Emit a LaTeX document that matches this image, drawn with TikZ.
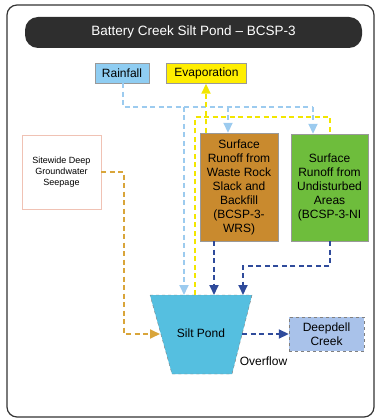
\documentclass[tikz,border=0pt]{standalone}
\usepackage{fontspec}
\setmainfont{Liberation Sans}
\usetikzlibrary{arrows.meta}
\definecolor{titlebg}{HTML}{2E2E2E}
\definecolor{rainfill}{HTML}{8FCDF2}
\definecolor{evapfill}{HTML}{FFEE00}
\definecolor{wrsfill}{HTML}{C98A2E}
\definecolor{nifill}{HTML}{6EBD3C}
\definecolor{pondfill}{HTML}{55BFE0}
\definecolor{creekfill}{HTML}{A9C2EA}
\definecolor{siteborder}{HTML}{F0C2B4}
\definecolor{rainline}{HTML}{9CCBEF}
\definecolor{darkline}{HTML}{2F4B9B}
\definecolor{orangeline}{HTML}{D9A53A}
\definecolor{yelline}{HTML}{F2E600}
\tikzset{
  flow/.style={line width=1.8pt, dash pattern=on 5pt off 3.5pt},
  tip/.style={-{Triangle[width=9pt,length=10pt]}},
  box/.style={draw=black!40, line width=0.4pt, align=center, inner sep=1pt, font=\fontsize{12}{14}\selectfont},
}
\begin{document}
\begin{tikzpicture}[x=1pt,y=-1pt]
\useasboundingbox (0,0) rectangle (377,419);
\draw[rounded corners=10pt, line width=1.2pt, black!80] (7,5) rectangle (374,417);
\node[fill=titlebg, rounded corners=13pt, minimum width=337pt, minimum height=31pt, text=white, font=\fontsize{13.5}{15}\selectfont] (title) at (193.5,32.5) {Battery Creek Silt Pond -- BCSP-3};

\node[box, fill=rainfill, minimum width=54pt, minimum height=20pt] (rain) at (122,73) {Rainfall};
\node[box, fill=evapfill, minimum width=80pt, minimum height=20pt] (evap) at (206.5,73.5) {Evaporation};
\node[box, fill=wrsfill, minimum width=78pt, minimum height=108pt] (wrs) at (239,187) {Surface\\Runoff from\\Waste Rock\\Slack and\\Backfill\\(BCSP-3-\\WRS)};
\node[box, fill=nifill, minimum width=77pt, minimum height=107pt] (ni) at (329.5,187.5) {Surface\\Runoff from\\Undisturbed\\Areas\\(BCSP-3-NI};
\node[box, draw=siteborder, fill=white, minimum width=79pt, minimum height=74pt, font=\fontsize{9}{11}\selectfont] (site) at (61.5,172) {Sitewide Deep\\Groundwater\\Seepage};
\node[box, draw=gray, dashed, fill=creekfill, minimum width=75pt, minimum height=34pt] (creek) at (326.5,334) {Deepdell\\Creek};

% pond
\draw[fill=pondfill, draw=gray, line width=0.4pt, dashed] (150,295) -- (252,295) -- (232,374) -- (172,374) -- cycle;
\node[font=\fontsize{12}{14}\selectfont] (pond) at (201,333) {Silt Pond};
\node[font=\fontsize{12}{14}\selectfont] (ovf) at (263.5,361) {Overflow};

% coordinates
\coordinate (r1) at (123,107);
\coordinate (r2) at (313,107);
\coordinate (r3) at (228,107);
\coordinate (r4) at (184,107);
\coordinate (p1) at (184,295);
\coordinate (y0) at (195,295);
\coordinate (y1) at (195,117);
\coordinate (y2) at (330,117);
\coordinate (y3) at (206,117);
\coordinate (d1) at (214,295);
\coordinate (d2) at (330,266);
\coordinate (d3) at (243,266);
\coordinate (d4) at (243,295);
\coordinate (o1) at (124,172);
\coordinate (o2) at (124,334);
\coordinate (o3) at (160,334);
\coordinate (ov) at (242,334);

% rainfall
\draw[flow, rainline] (rain.south -| r1) -- (r1) -- (r2);
\draw[flow, rainline, tip] (r3) -- (wrs.north -| r3);
\draw[flow, rainline, tip] (r2) -- (ni.north -| r2);
\draw[flow, rainline, tip] (r4) -- (p1);

% evaporation
\draw[flow, yelline] (y0) -- (y1) -- (y2) -- (ni.north -| y2);
\draw[flow, yelline, tip] (wrs.north -| y3) -- (evap.south -| y3);

% runoff
\draw[flow, darkline, tip] (wrs.south -| d1) -- (d1);
\draw[flow, darkline, tip] (ni.south -| d2) -- (d2) -- (d3) -- (d4);

% groundwater
\draw[flow, orangeline, tip] (site.east |- o1) -- (o1) -- (o2) -- (o3);

% overflow
\draw[flow, darkline, tip] (ov) -- (creek.west);
\end{tikzpicture}
\end{document}
